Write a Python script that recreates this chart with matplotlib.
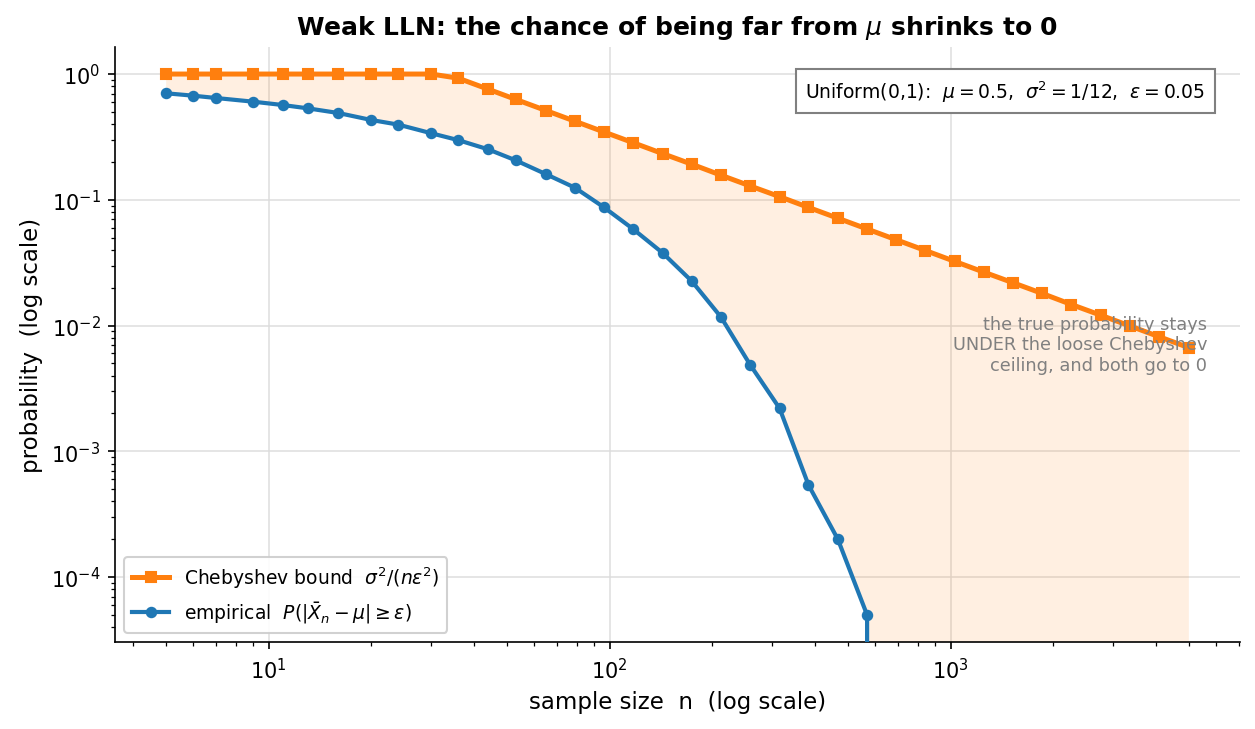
import numpy as np
import matplotlib
matplotlib.use("Agg")
import matplotlib.pyplot as plt

# sample sizes n (log-spaced)
n_values = [5, 6, 7, 9, 11, 13, 16, 20, 24, 30, 36, 44, 53, 65, 79, 96, 117,
            143, 174, 212, 258, 315, 383, 467, 569, 693, 844, 1028, 1252,
            1525, 1857, 2262, 2755, 3355, 4087, 5000]

# Chebyshev bound sigma^2/(n eps^2), capped at 1
chebyshev = [1.0, 1.0, 1.0, 1.0, 1.0, 1.0, 1.0, 1.0, 1.0, 1.0, 0.926, 0.758,
             0.629, 0.513, 0.422, 0.347, 0.285, 0.233, 0.192, 0.157, 0.129,
             0.106, 0.0870, 0.0714, 0.0586, 0.0481, 0.0395, 0.0324, 0.0266,
             0.0219, 0.0180, 0.0147, 0.0121, 0.00994, 0.00816, 0.00667]

# empirical P(|Xbar_n - mu| >= eps)
empirical = [0.703, 0.673, 0.645, 0.603, 0.567, 0.534, 0.490, 0.431, 0.396,
             0.338, 0.298, 0.252, 0.206, 0.160, 0.125, 0.0875, 0.0587, 0.0378,
             0.0226, 0.0117, 0.0049, 0.0022, 0.00054, 0.0002, 0.00005,
             0.0, 0.0, 0.0, 0.0, 0.0, 0.0, 0.0, 0.0, 0.0, 0.0, 0.0]

n = np.array(n_values, dtype=float)
cheb = np.array(chebyshev)
emp = np.array(empirical)

fig = plt.figure(figsize=(1255 / 150, 730 / 150), dpi=150)
ax = fig.add_axes([115 / 1255, 1 - 643 / 730, 1125 / 1255, 595 / 730])

ax.fill_between(n, emp, cheb, color="#ff7f0e", alpha=0.12, linewidth=0)
ax.plot(n, cheb, color="#ff7f0e", marker="s", markersize=4.5, linewidth=2.4,
        label=r"Chebyshev bound  $\sigma^2/(n\varepsilon^2)$", zorder=3)
ax.plot(n, emp, color="#1f77b4", marker="o", markersize=4.5, linewidth=2.0,
        label=r"empirical  $P(|\bar{X}_n-\mu|\geq\varepsilon)$", zorder=4)

ax.set_xscale("log")
ax.set_yscale("log")
ax.grid(True, which="major", color="#dddddd", linewidth=0.9, alpha=0.8)
ax.set_axisbelow(True)
for s in ("top", "right"):
    ax.spines[s].set_visible(False)

ax.set_xlabel("sample size  n  (log scale)", fontsize=11)
ax.set_ylabel("probability  (log scale)", fontsize=11)
ax.set_title(r"Weak LLN: the chance of being far from $\mu$ shrinks to 0",
             fontsize=12, fontweight="bold")

ax.legend(loc="lower left", fontsize=9, framealpha=0.9)

ax.text(0.969, 0.947,
        r"Uniform(0,1):  $\mu=0.5$,  $\sigma^2=1/12$,  $\varepsilon=0.05$",
        transform=ax.transAxes, ha="right", va="top", fontsize=9,
        bbox=dict(boxstyle="square,pad=0.5", facecolor="white",
                  edgecolor="gray"))

ax.text(0.971, 0.50,
        "the true probability stays\nUNDER the loose Chebyshev\nceiling, and both go to 0",
        transform=ax.transAxes, ha="right", va="center", fontsize=8.5,
        color="gray")

fig.savefig("out.png", dpi=150)
